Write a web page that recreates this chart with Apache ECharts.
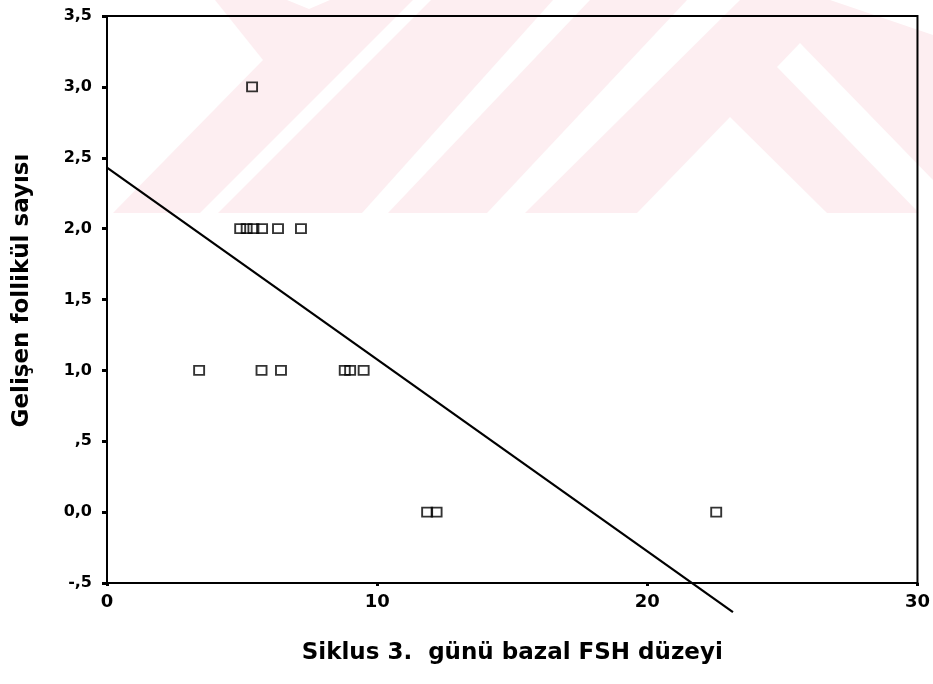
<!DOCTYPE html>
<html>
<head>
<meta charset="utf-8">
<script src="https://cdn.jsdelivr.net/npm/echarts@6/dist/echarts.min.js"></script>
<style>html,body{margin:0;padding:0;background:#fff;}#c{width:933px;height:684px;}</style>
</head>
<body>
<div id="c"></div>
<script>
// Data
const fshLevel = [5.37, 4.93, 5.17, 5.42, 5.74, 6.33, 7.18, 3.41, 5.72, 6.44, 8.8, 9.0, 9.5, 11.85, 12.2, 22.55];
const follicleCount = [3, 2, 2, 2, 2, 2, 2, 1, 1, 1, 1, 1, 1, 0, 0, 0];
const fitX = [0, 23.17];
const fitY = [2.43, -0.705];
const xTitle = 'Siklus 3.  günü bazal FSH düzeyi';
const yTitle = 'Gelişen follikül sayısı';

function fmtY(v) {
  let s = v.toFixed(1).replace('.', ',');
  if (s.startsWith('0,') && Math.abs(v) > 1e-9) s = s.slice(1);
  if (s.startsWith('-0,')) s = '-' + s.slice(2);
  return s;
}

const pink = '#fdeef1';
const wm = [
  {fill: pink, pts: [[100,0],[933,0],[933,213],[100,213]]},
  {fill: '#fff', pts: [[0,0],[215,0],[263,60],[113,213],[0,213]]},
  {fill: '#fff', pts: [[287,0],[330,0],[309,9]]},
  {fill: '#fff', pts: [[200,213],[218,213],[431,0],[413,0]]},
  {fill: '#fff', pts: [[362,213],[388,213],[590,0],[553,0]]},
  {fill: '#fff', pts: [[487,213],[525,213],[740,0],[687,0]]},
  {fill: '#fff', pts: [[637,213],[730,117],[827,213]]},
  {fill: '#fff', pts: [[777,67],[800,43],[933,180],[933,213],[919,213]]},
  {fill: '#fff', pts: [[830,0],[933,0],[933,35]]}
];

const chart = echarts.init(document.getElementById('c'));
const font = 'DejaVu Sans';
chart.setOption({
  animation: false,
  backgroundColor: '#fff',
  graphic: wm.map(w => ({type: 'polygon', silent: true, z: -100, shape: {points: w.pts}, style: {fill: w.fill}})),
  grid: {left: 107, right: 13, top: 16, bottom: 101, show: true, borderColor: '#000', borderWidth: 2, backgroundColor: 'transparent'},
  xAxis: {
    type: 'value', min: 0, max: 30, interval: 10,
    name: xTitle, nameLocation: 'middle', nameGap: 59,
    nameTextStyle: {fontFamily: font, fontWeight: 'bold', fontSize: 23, color: '#000'},
    axisLine: {show: true, onZero: false, lineStyle: {color: '#000', width: 2}},
    axisTick: {show: true, length: 3, lineStyle: {color: '#000', width: 3}},
    axisLabel: {fontFamily: font, fontWeight: 'bold', fontSize: 18, color: '#000', margin: 10},
    splitLine: {show: false}
  },
  yAxis: {
    type: 'value', min: -0.5, max: 3.5, interval: 0.5,
    name: yTitle, nameLocation: 'middle', nameGap: 73, nameRotate: 90,
    nameTextStyle: {fontFamily: font, fontWeight: 'bold', fontSize: 23, color: '#000', padding: [0, 0, 0, 18]},
    axisLine: {show: true, onZero: false, lineStyle: {color: '#000', width: 2}},
    axisTick: {show: true, length: 5, lineStyle: {color: '#000', width: 3}},
    axisLabel: {fontFamily: font, fontWeight: 'bold', fontSize: 16, color: '#000', margin: 15, formatter: fmtY},
    splitLine: {show: false}
  },
  series: [
    {
      type: 'scatter', symbol: 'rect', symbolSize: [10, 9],
      itemStyle: {color: 'transparent', borderColor: '#000', borderWidth: 1.8},
      data: fshLevel.map((x, i) => [x, follicleCount[i]]),
      z: 3
    },
    {
      type: 'line', clip: false, showSymbol: false, symbol: 'none',
      lineStyle: {color: '#000', width: 2.2},
      data: fitX.map((x, i) => [x, fitY[i]]),
      z: 4
    }
  ]
});
</script>
</body>
</html>
